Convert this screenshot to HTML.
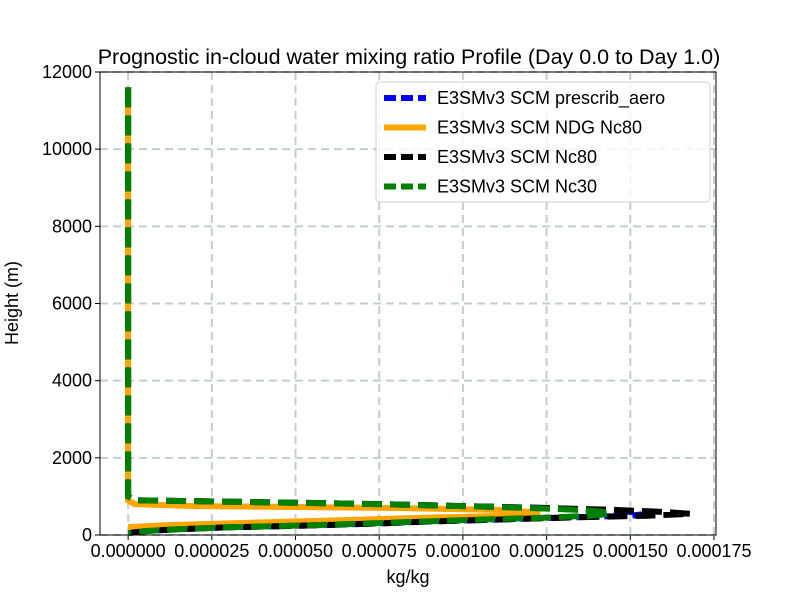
<!DOCTYPE html>
<html><head><meta charset="utf-8"><style>body{margin:0;background:#fff}svg{font-family:"Liberation Sans","DejaVu Sans",sans-serif}</style></head>
<body>
<svg id="c" width="800" height="600" xmlns="http://www.w3.org/2000/svg"></svg>
<script>
const xTicks=[0,0.000025,0.00005,0.000075,0.0001,0.000125,0.00015,0.000175];
const xTickLabels=["0.000000","0.000025","0.000050","0.000075","0.000100","0.000125","0.000150","0.000175"];
const yTicks=[0,2000,4000,6000,8000,10000,12000];
const blueH=[11600,1000,900,850,800,750,700,650,600,550,500,450,400,350,300,250,200,150,100,50];
const blueX=[0,0,0.2,4,7.5,10,12.5,14,15,15.5,15,13,11,9,7.5,5.5,3,1.5,0.5,0];
const orangeH=[11600,1000,900,800,750,700,650,600,550,500,450,400,350,300,250,200];
const orangeX=[0,0,0,0.2,2,8,11,12,12.3,11.5,9,7,5,3,1,0];
const blackH=[11600,1000,900,850,800,750,700,650,600,550,500,450,400,350,300,250,200,150,100,50];
const blackX=[0,0,0.2,4,7.5,10,12.5,14.5,16,16.8,15.5,13,11,9,7.5,5.5,3,1.5,0.5,0];
const greenH=[11600,1000,900,850,800,750,700,650,600,550,500,450,400,350,300,250,200,150,100,50];
const greenX=[0,0,0.2,4,7.5,10,12,13.5,14.2,14.4,13.8,12.5,10.5,8.8,7.2,5.3,3,1.5,0.5,0];
const L=100,R=716,T=72,B=535;
const X0=-0.0000084,X1=0.0001756;
const sx=v=>L+(v-X0)/(X1-X0)*(R-L);
const sy=v=>B-v/12000*(B-T);
const svg=document.getElementById('c');
function mk(t,a,p){const e=document.createElementNS('http://www.w3.org/2000/svg',t);for(const k in a)e.setAttribute(k,a[k]);(p||svg).appendChild(e);return e;}
let g;
xTicks.forEach((v,i)=>{
 g=mk('line',{x1:sx(v),x2:sx(v),y1:T,y2:B,stroke:'#c3cfcf',"stroke-width":2,"stroke-dasharray":"8,5"});
 
 g=mk('line',{x1:sx(v),x2:sx(v),y1:B,y2:B+5,stroke:'#000',"stroke-width":1});
 
 g=mk('text',{x:sx(v),y:B+22,"text-anchor":"middle","font-size":18});g.textContent=xTickLabels[i];
 
});
yTicks.forEach(v=>{
 g=mk('line',{x1:L,x2:R,y1:sy(v),y2:sy(v),stroke:'#c3cfcf',"stroke-width":2,"stroke-dasharray":"8,5"});
 
 g=mk('line',{x1:L-5,x2:L,y1:sy(v),y2:sy(v),stroke:'#000',"stroke-width":1});
 
 g=mk('text',{x:L-8,y:sy(v)+6,"text-anchor":"end","font-size":18});g.textContent=v;
 
});
function series(H,Xv,color,dash,name){
 const d=H.map((h,i)=>(i?'L':'M')+sx(Xv[i]*1e-5).toFixed(1)+','+sy(h).toFixed(1)).join(' ');
 const a={d:d,fill:'none',stroke:color,"stroke-width":6};if(dash)a["stroke-dasharray"]=dash;
 const p=mk('path',a);
 
}
series(blueH,blueX,'#0000ff','20,8','series-prescrib-aero');
series(orangeH,orangeX,'#ffa500',null,'series-ndg-nc80');
series(blackH,blackX,'#000000','20,8','series-nc80');
series(greenH,greenX,'#008000','20,8','series-nc30');
g=mk('rect',{x:L,y:T,width:R-L,height:B-T,fill:'none',stroke:'#000',"stroke-width":1});

g=mk('text',{x:409,y:64,"text-anchor":"middle","font-size":21.5});g.textContent='Prognostic in-cloud water mixing ratio Profile (Day 0.0 to Day 1.0)';

g=mk('text',{x:408,y:583,"text-anchor":"middle","font-size":18});g.textContent='kg/kg';

g=mk('text',{x:18,y:303,"text-anchor":"middle","font-size":18,transform:'rotate(-90 18 303)'});g.textContent='Height (m)';

const leg=mk('g',{});
mk('rect',{x:376,y:82,width:334,height:120,rx:4,fill:'#fff',"fill-opacity":0.8,stroke:'#ccc'},leg);
const legNames=["E3SMv3 SCM prescrib_aero","E3SMv3 SCM NDG Nc80","E3SMv3 SCM Nc80","E3SMv3 SCM Nc30"];
const legColors=['#0000ff','#ffa500','#000','#008000'];
legNames.forEach((n,i)=>{
 const y=98+i*29.5;
 const a={x1:384,x2:426,y1:y,y2:y,stroke:legColors[i],"stroke-width":6};if(i!==1)a["stroke-dasharray"]="12,5";
 g=mk('line',a,leg);
 g=mk('text',{x:437,y:y+6,"font-size":18},leg);g.textContent=n;
 
});
</script>
</body></html>
